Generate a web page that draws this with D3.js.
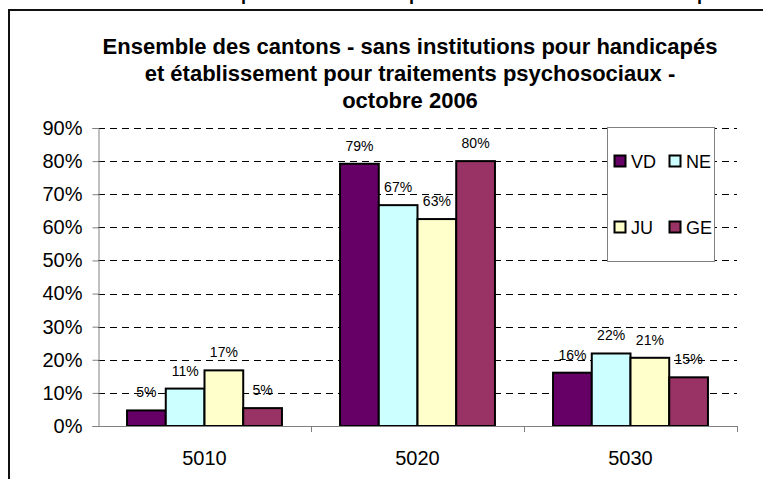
<!DOCTYPE html>
<html><head><meta charset="utf-8">
<script src="https://cdn.jsdelivr.net/npm/d3@7"></script>
<style>html,body{margin:0;padding:0;background:#fff;overflow:hidden}svg{display:block}</style>
</head><body>
<svg id="c" width="763" height="479"></svg>
<script>
const categories = ["5010", "5020", "5030"];
const seriesNames = ["VD", "NE", "JU", "GE"];
const VD = [0.047, 0.792, 0.161];
const NE = [0.113, 0.667, 0.219];
const JU = [0.168, 0.625, 0.206];
const GE = [0.054, 0.800, 0.147];
const yTicks = [0, 0.1, 0.2, 0.3, 0.4, 0.5, 0.6, 0.7, 0.8, 0.9];
const colors = ["#660066", "#CCFFFF", "#FFFFCC", "#993366"];
const titleLines = ["Ensemble des cantons - sans institutions pour handicapés",
  "et établissement pour traitements psychosociaux -", "octobre 2006"];
const topTitleParts = ["Comparaison des", "réponses", "par canton"];

const values = [VD, NE, JU, GE];
const svg = d3.select("#c");
const font = "Arial, 'Liberation Sans', sans-serif";

// outer frame of chart area
svg.append("rect").attr("x", 9).attr("y", 10).attr("width", 900).attr("height", 600)
  .attr("fill", "#fff").attr("stroke", "#111").attr("stroke-width", 2);

// cut-off upper title (only descenders visible)
const tt = svg.append("text").attr("y", 0).attr("font-family", font)
  .attr("font-weight", "bold").attr("font-size", 18);
tt.selectAll("tspan").data(topTitleParts).join("tspan")
  .attr("x", (d, i) => [201, 392, 697][i]).text(d => d);

const x0 = d3.scaleBand().domain(categories).range([98, 737]).paddingInner(0).paddingOuter(0);
const x1 = d3.scaleBand().domain(seriesNames).range([0, x0.bandwidth()]).paddingOuter(0.75).paddingInner(0);
const y = d3.scaleLinear().domain([0, 0.9]).range([426, 128]);

// title
svg.append("g").selectAll("text").data(titleLines).join("text")
  .attr("x", 410).attr("y", (d, i) => 54 + i * 27)
  .attr("text-anchor", "middle").attr("font-family", font).attr("font-weight", "bold")
  .attr("font-size", 22).text(d => d);

// gridlines
svg.append("g").selectAll("line").data(yTicks.filter(d => d > 0)).join("line")
  .attr("x1", 98).attr("x2", 737)
  .attr("y1", d => Math.round(y(d)) + 0.5).attr("y2", d => Math.round(y(d)) + 0.5)
  .attr("stroke", "#000").attr("stroke-width", 1).attr("stroke-dasharray", "7,5");

// y axis
const yAxis = d3.axisLeft(y).tickValues(yTicks).tickFormat(d3.format(".0%")).tickSize(6).tickPadding(10);
const gy = svg.append("g").attr("transform", "translate(98.5,0)").call(yAxis);
gy.select(".domain").attr("stroke", "#808080");
gy.selectAll(".tick line").attr("stroke", "#808080");
gy.selectAll("text").attr("font-family", font).attr("font-size", 20).attr("fill", "#000");

// bars
const groups = svg.append("g").selectAll("g").data(categories).join("g")
  .attr("transform", d => `translate(${x0(d)},0)`);
groups.selectAll("rect").data((c, ci) => seriesNames.map((s, si) => ({s, si, v: values[si][ci]}))).join("rect")
  .attr("x", d => x1(d.s)).attr("width", x1.bandwidth())
  .attr("y", d => y(d.v)).attr("height", d => y(0) - y(d.v))
  .attr("fill", d => colors[d.si]).attr("stroke", "#000").attr("stroke-width", 2);
groups.selectAll("text").data((c, ci) => seriesNames.map((s, si) => ({s, si, v: values[si][ci]}))).join("text")
  .attr("x", d => x1(d.s) + x1.bandwidth() / 2).attr("y", d => y(d.v) - 13)
  .attr("text-anchor", "middle").attr("font-family", font).attr("font-size", 14)
  .attr("fill", "#000").text(d => d3.format(".0%")(d.v));

// x axis
const xAxis = d3.axisBottom(x0).tickSize(0).tickPadding(24);
const gx = svg.append("g").attr("transform", "translate(0,426.5)").call(xAxis);
gx.select(".domain").attr("stroke", "#808080").attr("d", "M98,0H737");
gx.selectAll("text").attr("font-family", font).attr("font-size", 20).attr("fill", "#000");
svg.append("g").selectAll("line").data(categories.map(c => x0(c) + x0.bandwidth())).join("line")
  .attr("x1", d => Math.round(d) + 0.5).attr("x2", d => Math.round(d) + 0.5)
  .attr("y1", 426).attr("y2", 432).attr("stroke", "#808080");

// legend
const lg = svg.append("g");
lg.append("rect").attr("x", 607.5).attr("y", 127.5).attr("width", 107).attr("height", 134)
  .attr("fill", "#fff").attr("stroke", "#808080");
const items = lg.selectAll("g").data(seriesNames).join("g")
  .attr("transform", (d, i) => `translate(${614 + (i % 2) * 55},${161 + Math.floor(i / 2) * 66})`);
items.append("rect").attr("x", 0.5).attr("y", -5.5).attr("width", 11).attr("height", 11)
  .attr("fill", (d, i) => colors[i]).attr("stroke", "#000").attr("stroke-width", 2);
items.append("text").attr("x", 17).attr("y", 6.5).attr("font-family", font).attr("font-size", 18)
  .attr("fill", "#000").text(d => d);
</script>
</body></html>
